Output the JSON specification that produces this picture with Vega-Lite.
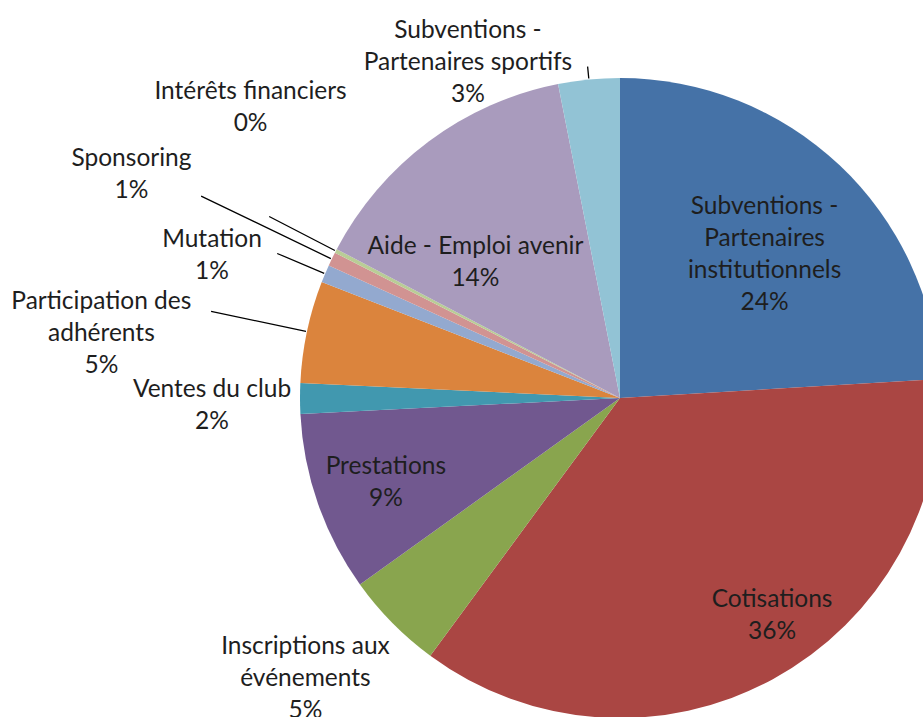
{
  "$schema": "https://vega.github.io/schema/vega-lite/v6.json",
  "width": 923,
  "height": 717,
  "autosize": "none",
  "padding": 0,
  "background": "white",
  "config": {
    "view": {"stroke": null},
    "text": {"font": "Lato", "fontSize": 24.5, "lineHeight": 32, "lineBreak": "\n", "align": "center", "baseline": "middle", "color": "#1e1e1e"}
  },
  "data": {
    "values": [
      {"idx": 1, "cat": "Subventions - Partenaires institutionnels", "value": 24.05, "label": "Subventions -\nPartenaires\ninstitutionnels\n24%"},
      {"idx": 2, "cat": "Cotisations", "value": 36.05, "label": "Cotisations\n36%"},
      {"idx": 3, "cat": "Inscriptions aux événements", "value": 5.0, "label": "Inscriptions aux\névénements\n5%"},
      {"idx": 4, "cat": "Prestations", "value": 9.1, "label": "Prestations\n9%"},
      {"idx": 5, "cat": "Ventes du club", "value": 1.55, "label": "Ventes du club\n2%"},
      {"idx": 6, "cat": "Participation des adhérents", "value": 5.15, "label": "Participation des\nadhérents\n5%"},
      {"idx": 7, "cat": "Mutation", "value": 0.9, "label": "Mutation\n1%"},
      {"idx": 8, "cat": "Sponsoring", "value": 0.7, "label": "Sponsoring\n1%"},
      {"idx": 9, "cat": "Intérêts financiers", "value": 0.2, "label": "Intérêts financiers\n0%"},
      {"idx": 10, "cat": "Aide - Emploi avenir", "value": 14.2, "label": "Aide - Emploi avenir\n14%"},
      {"idx": 11, "cat": "Subventions - Partenaires sportifs", "value": 3.1, "label": "Subventions -\nPartenaires sportifs\n3%"}
    ]
  },
  "encoding": {
    "theta": {"field": "value", "type": "quantitative", "stack": true},
    "order": {"field": "idx", "type": "quantitative"},
    "detail": {"field": "cat", "type": "nominal"},
    "x": {"value": 620},
    "y": {"value": 398}
  },
  "layer": [
    {
      "mark": {"type": "arc", "radius": 320},
      "encoding": {
        "color": {
          "field": "cat", "type": "nominal", "legend": null,
          "scale": {
            "domain": ["Subventions - Partenaires institutionnels", "Cotisations", "Inscriptions aux événements", "Prestations", "Ventes du club", "Participation des adhérents", "Mutation", "Sponsoring", "Intérêts financiers", "Aide - Emploi avenir", "Subventions - Partenaires sportifs"],
            "range": ["#4572A7", "#AA4643", "#89A54E", "#71588F", "#4198AF", "#DB843D", "#93A9CF", "#D19392", "#B9CD96", "#A99BBD", "#92C3D5"]
          }
        }
      }
    },
    {
      "mark": {"type": "arc", "padAngle": 3, "innerRadius": 321, "outerRadius": 418, "fillOpacity": 0, "stroke": "#000000", "strokeWidth": 1.3},
      "encoding": {"strokeOpacity": {"condition": {"test": "datum.idx === 6", "value": 1}, "value": 0}}
    },
    {
      "mark": {"type": "arc", "padAngle": 3, "innerRadius": 321, "outerRadius": 372, "fillOpacity": 0, "stroke": "#000000", "strokeWidth": 1.3},
      "encoding": {"strokeOpacity": {"condition": {"test": "datum.idx === 7", "value": 1}, "value": 0}}
    },
    {
      "mark": {"type": "arc", "padAngle": 3, "innerRadius": 321, "outerRadius": 465, "fillOpacity": 0, "stroke": "#000000", "strokeWidth": 1.3},
      "encoding": {"strokeOpacity": {"condition": {"test": "datum.idx === 8", "value": 1}, "value": 0}}
    },
    {
      "mark": {"type": "arc", "padAngle": 3, "innerRadius": 321, "outerRadius": 395, "fillOpacity": 0, "stroke": "#000000", "strokeWidth": 1.3},
      "encoding": {"strokeOpacity": {"condition": {"test": "datum.idx === 9", "value": 1}, "value": 0}}
    },
    {
      "mark": {"type": "arc", "padAngle": 3, "innerRadius": 321, "outerRadius": 333, "fillOpacity": 0, "stroke": "#000000", "strokeWidth": 1.3},
      "encoding": {"strokeOpacity": {"condition": {"test": "datum.idx === 11", "value": 1}, "value": 0}}
    },
    {"mark": {"type": "text", "radius": 205, "dx": 4, "dy": -42}, "encoding": {"text": {"condition": {"test": "datum.idx === 1", "field": "label", "type": "nominal"}, "value": ""}}},
    {"mark": {"type": "text", "radius": 264, "dx": 26, "dy": -30}, "encoding": {"text": {"condition": {"test": "datum.idx === 2", "field": "label", "type": "nominal"}, "value": ""}}},
    {"mark": {"type": "text", "radius": 421, "dx": -15, "dy": -47}, "encoding": {"text": {"condition": {"test": "datum.idx === 3", "field": "label", "type": "nominal"}, "value": ""}}},
    {"mark": {"type": "text", "radius": 248, "dx": 0, "dy": -13}, "encoding": {"text": {"condition": {"test": "datum.idx === 4", "field": "label", "type": "nominal"}, "value": ""}}},
    {"mark": {"type": "text", "radius": 408, "dx": 0, "dy": -9}, "encoding": {"text": {"condition": {"test": "datum.idx === 5", "field": "label", "type": "nominal"}, "value": ""}}},
    {"mark": {"type": "text", "radius": 523, "dx": -7, "dy": 12}, "encoding": {"text": {"condition": {"test": "datum.idx === 6", "field": "label", "type": "nominal"}, "value": ""}}},
    {"mark": {"type": "text", "radius": 433, "dx": -9, "dy": 10}, "encoding": {"text": {"condition": {"test": "datum.idx === 7", "field": "label", "type": "nominal"}, "value": ""}}},
    {"mark": {"type": "text", "radius": 539, "dx": -3, "dy": -5}, "encoding": {"text": {"condition": {"test": "datum.idx === 8", "field": "label", "type": "nominal"}, "value": ""}}},
    {"mark": {"type": "text", "radius": 470, "dx": 48, "dy": -90}, "encoding": {"text": {"condition": {"test": "datum.idx === 9", "field": "label", "type": "nominal"}, "value": ""}}},
    {"mark": {"type": "text", "radius": 200, "dx": -25, "dy": 9}, "encoding": {"text": {"condition": {"test": "datum.idx === 10", "field": "label", "type": "nominal"}, "value": ""}}},
    {"mark": {"type": "text", "radius": 340, "dx": -119, "dy": -29}, "encoding": {"text": {"condition": {"test": "datum.idx === 11", "field": "label", "type": "nominal"}, "value": ""}}}
  ]
}
